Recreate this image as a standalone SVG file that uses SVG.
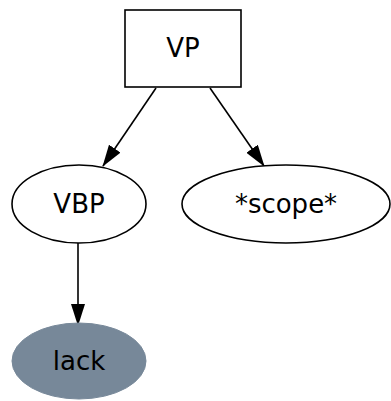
<svg xmlns="http://www.w3.org/2000/svg" width="391" height="401" viewBox="0 0 391 401">
<style>
.n{fill:#fff;stroke:#000;stroke-width:1.6}
.t{font-family:"DejaVu Sans",sans-serif;font-size:26px;text-anchor:middle;fill:#000}
.e{stroke:#000;stroke-width:1.6;fill:none;marker-end:url(#a)}
</style>
<defs>
<marker id="a" viewBox="0 0 22 14" refX="21" refY="7" markerWidth="22" markerHeight="14" markerUnits="userSpaceOnUse" orient="auto">
<path d="M0,0 L22,7 L0,14 z" fill="#000"/>
</marker>
</defs>
<rect width="391" height="401" fill="#fff"/>
<g id="edges">
<path class="e" d="M156,88 L103,166"/>
<path class="e" d="M210,88 L264,166"/>
<path class="e" d="M78,243 L78,325"/>
</g>
<g id="VP">
<rect class="n" x="125" y="10" width="116" height="77"/>
<text class="t" x="183" y="57">VP</text>
</g>
<g id="VBP">
<ellipse class="n" cx="79" cy="204" rx="67" ry="39"/>
<text class="t" x="79" y="213">VBP</text>
</g>
<g id="scope">
<ellipse class="n" cx="286" cy="204" rx="104" ry="39"/>
<text class="t" x="286" y="213">*scope*</text>
</g>
<g id="lack">
<ellipse cx="79" cy="361" rx="67" ry="38" fill="#778899" stroke="#778899"/>
<text class="t" x="79" y="370" fill="#111">lack</text>
</g>
</svg>
